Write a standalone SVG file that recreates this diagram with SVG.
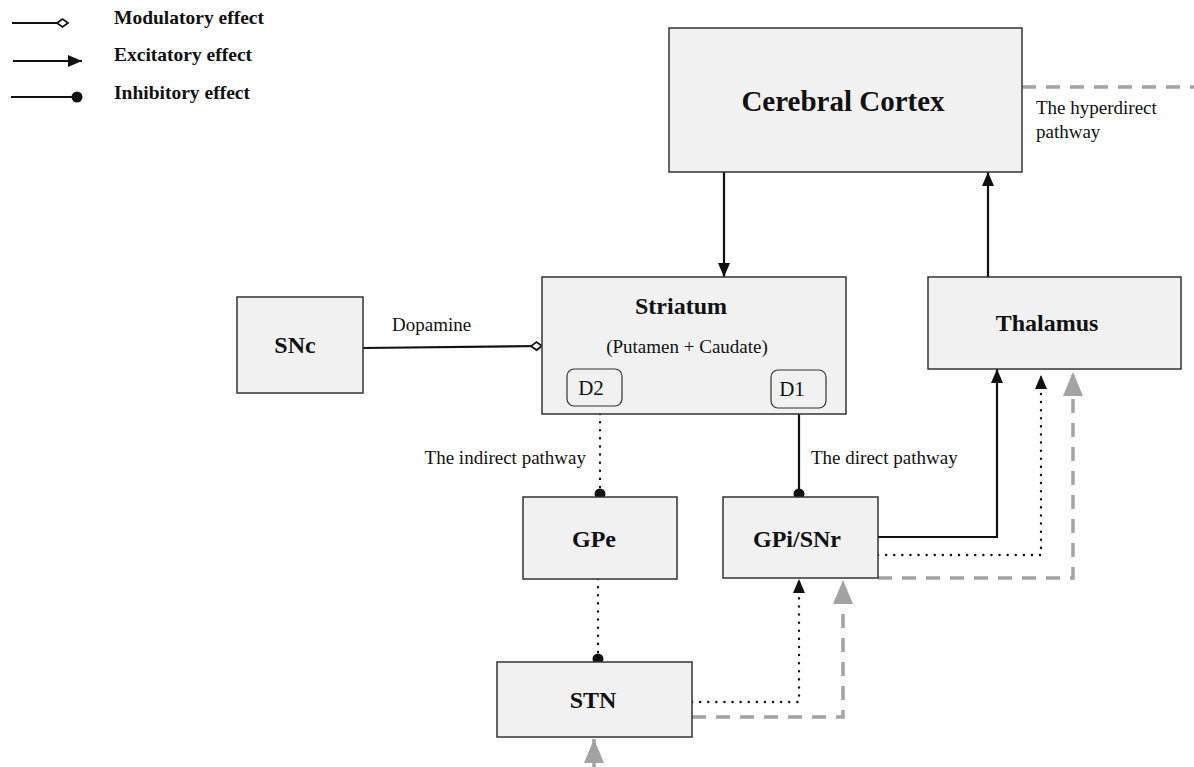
<svg xmlns="http://www.w3.org/2000/svg" width="1194" height="767" viewBox="0 0 1194 767">
<style>
.box{fill:#f1f1f1;stroke:#333;stroke-width:1.5}
.sub{fill:#f1f1f1;stroke:#333;stroke-width:1.2}
.t{font-family:"Liberation Serif",serif;fill:#111}
.b{font-weight:bold}
.lbl{font-size:19px}
.node{font-size:24px;font-weight:bold}
.solid{fill:none;stroke:#111;stroke-width:2.2}
.dot{fill:none;stroke:#111;stroke-width:2.4;stroke-dasharray:0.1 8;stroke-linecap:round}
.dash{fill:none;stroke:#a3a3a3;stroke-width:3.5;stroke-dasharray:14 10}
</style>
<defs>
<marker id="arr" markerUnits="userSpaceOnUse" markerWidth="16" markerHeight="14" refX="14" refY="6" orient="auto"><path d="M0,0 L14,6 L0,12 Z" fill="#111"/></marker>
<marker id="garr" markerUnits="userSpaceOnUse" markerWidth="26" markerHeight="22" refX="24" refY="10" orient="auto"><path d="M0,0 L24,10 L0,20 Z" fill="#a3a3a3"/></marker>
<marker id="dot" markerUnits="userSpaceOnUse" markerWidth="14" markerHeight="14" refX="9" refY="6" orient="auto"><circle cx="6" cy="6" r="5.5" fill="#111"/></marker>
<marker id="dia" markerUnits="userSpaceOnUse" markerWidth="14" markerHeight="12" refX="12" refY="6" orient="auto"><path d="M1,6 L6.5,2 L12,6 L6.5,10 Z" fill="#fff" stroke="#111" stroke-width="1.8"/></marker>
</defs>
<rect width="1194" height="767" fill="#fff"/>
<g id="legend">
<line x1="12" y1="23" x2="68" y2="23" class="solid" marker-end="url(#dia)"/>
<text x="114" y="24" class="t b" font-size="19.5">Modulatory effect</text>
<line x1="13" y1="61" x2="82" y2="61" class="solid" marker-end="url(#arr)"/>
<text x="114" y="61" class="t b" font-size="19.5">Excitatory effect</text>
<line x1="11" y1="97" x2="80" y2="97" class="solid" marker-end="url(#dot)"/>
<text x="114" y="99" class="t b" font-size="19.5">Inhibitory effect</text>
</g>
<g id="connectors">
<line x1="724" y1="172" x2="724" y2="277" class="solid" marker-end="url(#arr)"/>
<line x1="988" y1="277" x2="988" y2="172" class="solid" marker-end="url(#arr)"/>
<line x1="363" y1="348" x2="542" y2="346" class="solid" marker-end="url(#dia)"/>
<line x1="600" y1="414" x2="600" y2="497" class="dot" marker-end="url(#dot)"/>
<line x1="799" y1="414" x2="799" y2="497" class="solid" marker-end="url(#dot)"/>
<line x1="598" y1="579" x2="598" y2="662" class="dot" marker-end="url(#dot)"/>
<polyline points="878,537 997,537 997,369" class="solid" marker-end="url(#arr)"/>
<polyline points="878,555 1041,555 1041,375" class="dot" marker-end="url(#arr)"/>
<polyline points="878,578 1073,578 1073,372" class="dash" marker-end="url(#garr)"/>
<polyline points="692,702 799,702 799,579" class="dot" marker-end="url(#arr)"/>
<polyline points="692,717 843,717 843,580" class="dash" marker-end="url(#garr)"/>
<line x1="1022" y1="87" x2="1194" y2="87" class="dash"/>
<line x1="594" y1="770" x2="594" y2="739" class="dash" stroke-dasharray="none" marker-end="url(#garr)"/>
<text x="392" y="331" class="t lbl">Dopamine</text>
<text x="586" y="464" class="t lbl" text-anchor="end">The indirect pathway</text>
<text x="811" y="464" class="t lbl">The direct pathway</text>
<text x="1036" y="114" class="t lbl">The hyperdirect</text>
<text x="1036" y="138" class="t lbl">pathway</text>
</g>
<g id="cortex">
<rect x="669" y="28" width="353" height="144" class="box"/>
<text x="843" y="111" class="t b" font-size="29" text-anchor="middle">Cerebral Cortex</text>
</g>
<g id="striatum">
<rect x="542" y="277" width="304" height="137" class="box"/>
<text x="681" y="314" class="t node" text-anchor="middle">Striatum</text>
<text x="687" y="353" class="t lbl" text-anchor="middle">(Putamen + Caudate)</text>
</g>
<g id="d2">
<rect x="567" y="369" width="55" height="37" rx="7" class="sub"/>
<text x="591" y="395" class="t" font-size="21" text-anchor="middle">D2</text>
</g>
<g id="d1">
<rect x="771" y="370" width="55" height="38" rx="7" class="sub"/>
<text x="792" y="396" class="t" font-size="21" text-anchor="middle">D1</text>
</g>
<g id="snc">
<rect x="237" y="297" width="126" height="96" class="box"/>
<text x="295" y="353" class="t node" text-anchor="middle">SNc</text>
</g>
<g id="thalamus">
<rect x="928" y="277" width="253" height="92" class="box"/>
<text x="1047" y="331" class="t node" text-anchor="middle">Thalamus</text>
</g>
<g id="gpe">
<rect x="523" y="497" width="154" height="82" class="box"/>
<text x="594" y="547" class="t node" text-anchor="middle">GPe</text>
</g>
<g id="gpi">
<rect x="723" y="497" width="155" height="81" class="box"/>
<text x="797" y="547" class="t node" text-anchor="middle">GPi/SNr</text>
</g>
<g id="stn">
<rect x="497" y="662" width="195" height="75" class="box"/>
<text x="593" y="708" class="t node" text-anchor="middle">STN</text>
</g>
</svg>
